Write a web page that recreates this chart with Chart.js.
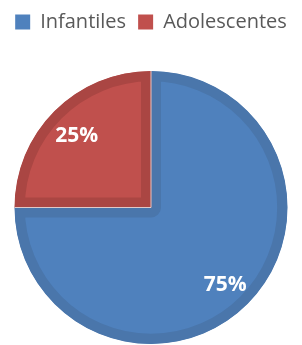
<!DOCTYPE html>
<html>
<head>
<meta charset="utf-8">
<script src="https://cdn.jsdelivr.net/npm/chart.js@4/dist/chart.umd.min.js"></script>
<style>
  html, body { margin: 0; padding: 0; background: #fff; }
  #wrap { width: 302px; height: 345px; position: relative; }
</style>
</head>
<body>
<div id="wrap"><canvas id="pieChart"></canvas></div>
<script>
// Data
const categories = ["Infantiles", "Adolescentes"];
const values = [75, 25];
const fillColors = ["#4F81BD", "#C0504D"];
const edgeColors = ["#4A76AB", "#AA4643"];

// Extra space under the legend
const legendSpacer = {
  id: "legendSpacer",
  beforeInit(chart) {
    const origFit = chart.legend.fit;
    chart.legend.fit = function () {
      origFit.bind(chart.legend)();
      this.height += 29;
    };
  }
};

// Thin light lines between slices + percentage labels
const sliceDecor = {
  id: "sliceDecor",
  afterDatasetsDraw(chart) {
    const ctx = chart.ctx;
    const meta = chart.getDatasetMeta(0);
    const total = values.reduce((a, b) => a + b, 0);
    ctx.save();
    meta.data.forEach(arc => {
      const { x, y, startAngle, outerRadius } = arc.getProps(["x", "y", "startAngle", "outerRadius"], true);
      ctx.strokeStyle = "rgba(235,225,225,0.85)";
      ctx.lineWidth = 1;
      ctx.beginPath();
      ctx.moveTo(x, y);
      ctx.lineTo(x + Math.cos(startAngle) * outerRadius, y + Math.sin(startAngle) * outerRadius);
      ctx.stroke();
    });
    meta.data.forEach((arc, i) => {
      const { x, y, startAngle, endAngle, outerRadius } = arc.getProps(["x", "y", "startAngle", "endAngle", "outerRadius"], true);
      const mid = (startAngle + endAngle) / 2;
      const r = outerRadius * 0.77;
      ctx.fillStyle = "#ffffff";
      ctx.font = "bold 21px 'Open Sans'";
      ctx.textAlign = "center";
      ctx.textBaseline = "middle";
      const pct = Math.round(values[i] / total * 100) + "%";
      ctx.fillText(pct, x + Math.cos(mid) * r, y + Math.sin(mid) * r + 3);
    });
    ctx.restore();
  }
};

const ctx = document.getElementById("pieChart").getContext("2d");
new Chart(ctx, {
  type: "pie",
  data: {
    labels: categories,
    datasets: [{
      data: values,
      backgroundColor: fillColors,
      borderColor: edgeColors,
      borderWidth: 10,
      borderAlign: "inner"
    }]
  },
  options: {
    responsive: true,
    maintainAspectRatio: false,
    animation: false,
    layout: { padding: { bottom: 1 } },
    plugins: {
      legend: {
        position: "top",
        labels: {
          boxWidth: 15,
          boxHeight: 15,
          padding: 12,
          color: "#595959",
          font: { family: "'Open Sans'", size: 20 },
          generateLabels(chart) {
            return categories.map((c, i) => ({
              text: c,
              fillStyle: fillColors[i],
              strokeStyle: fillColors[i],
              lineWidth: 0,
              fontColor: "#595959",
              index: i
            }));
          }
        }
      },
      tooltip: { enabled: false }
    }
  },
  plugins: [legendSpacer, sliceDecor]
});
</script>
</body>
</html>
